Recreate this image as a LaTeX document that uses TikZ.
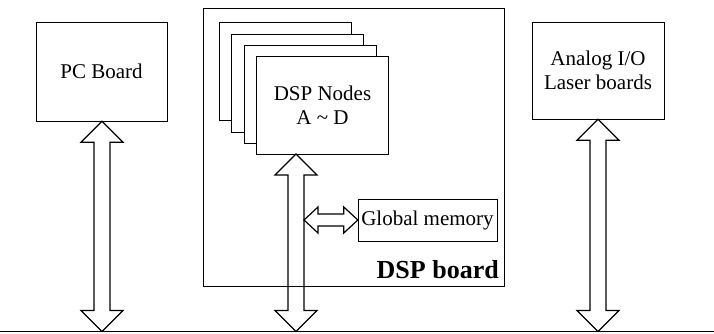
\documentclass[tikz,border=0pt]{standalone}
\usepackage{fontspec}
\setmainfont{Liberation Serif}
\usetikzlibrary{calc}
\tikzset{
  x=1pt, y=-1pt,
  line width=1.2pt,
  boxnode/.style={draw, fill=white, inner sep=0pt, align=center,
    font=\fontsize{21}{24}\selectfont},
  bigbus/.style={line width=1.2pt, line join=miter, to path={
    -- ($(\tikztostart)!21pt!(\tikztotarget)!21pt!-90:(\tikztotarget)$)
    -- ($(\tikztostart)!21pt!(\tikztotarget)!8pt!-90:(\tikztotarget)$)
    -- ($(\tikztotarget)!21pt!(\tikztostart)!8pt!90:(\tikztostart)$)
    -- ($(\tikztotarget)!21pt!(\tikztostart)!21pt!90:(\tikztostart)$)
    -- (\tikztotarget)
    -- ($(\tikztotarget)!21pt!(\tikztostart)!21pt!-90:(\tikztostart)$)
    -- ($(\tikztotarget)!21pt!(\tikztostart)!8pt!-90:(\tikztostart)$)
    -- ($(\tikztostart)!21pt!(\tikztotarget)!8pt!90:(\tikztotarget)$)
    -- ($(\tikztostart)!21pt!(\tikztotarget)!21pt!90:(\tikztotarget)$)
    -- cycle}},
  smallbus/.style={line width=1.2pt, line join=miter, to path={
    -- ($(\tikztostart)!14pt!(\tikztotarget)!13pt!-90:(\tikztotarget)$)
    -- ($(\tikztostart)!14pt!(\tikztotarget)!6pt!-90:(\tikztotarget)$)
    -- ($(\tikztotarget)!14pt!(\tikztostart)!6pt!90:(\tikztostart)$)
    -- ($(\tikztotarget)!14pt!(\tikztostart)!13pt!90:(\tikztostart)$)
    -- (\tikztotarget)
    -- ($(\tikztotarget)!14pt!(\tikztostart)!13pt!-90:(\tikztostart)$)
    -- ($(\tikztotarget)!14pt!(\tikztostart)!6pt!-90:(\tikztostart)$)
    -- ($(\tikztostart)!14pt!(\tikztotarget)!6pt!90:(\tikztotarget)$)
    -- ($(\tikztostart)!14pt!(\tikztotarget)!13pt!90:(\tikztotarget)$)
    -- cycle}}
}
\begin{document}
\begin{tikzpicture}
\useasboundingbox (0,0) rectangle (714,333);
\fill[white] (0,0) rectangle (714,333);

% DSP board outline
\node[draw, inner sep=0pt, minimum width=301pt, minimum height=278pt] (dspboard) at (353.5,147) {};
\node[anchor=base east, inner sep=0pt, font=\fontsize{26}{29}\selectfont\bfseries] (dsplabel) at (499,278) {DSP board};

% PC board
\node[boxnode, minimum width=131pt, minimum height=99pt] (pc) at (101.5,71.5) {PC Board};

% stacked DSP nodes
\node[boxnode, minimum width=132pt, minimum height=98pt] (n1) at (285,71.5) {};
\node[boxnode, minimum width=132pt, minimum height=98pt] (n2) at (297,83) {};
\node[boxnode, minimum width=132pt, minimum height=98pt] (n3) at (310,94.5) {};
\node[boxnode, minimum width=132pt, minimum height=98pt] (nodes) at (322.5,105.5) {DSP Nodes\\A \textasciitilde{} D};

% Global memory
\node[boxnode, minimum width=139pt, minimum height=42pt] (gmem) at (427.5,220) {Global memory};

% Analog I/O
\node[boxnode, minimum width=132pt, minimum height=97pt] (analog) at (598,70.5) {Analog I/O\\Laser boards};

% bottom bus line
\coordinate (busL) at (0,331.5);
\coordinate (busR) at (714,331.5);
\draw (busL) -- (busR);

% bus ends
\coordinate (pcb) at (102,331.5);
\coordinate (dspt) at (296,154);
\coordinate (dspb) at (296,331.5);
\coordinate (anb) at (598,331.5);
\coordinate (gtap) at (304,220);

\draw[bigbus] (pc.south -| pcb) to (pcb);
\draw[bigbus] (dspt) to (dspb);
\draw[bigbus] (analog.south -| anb) to (anb);
\draw[smallbus] (gtap) to (gmem.west);
\end{tikzpicture}
\end{document}
